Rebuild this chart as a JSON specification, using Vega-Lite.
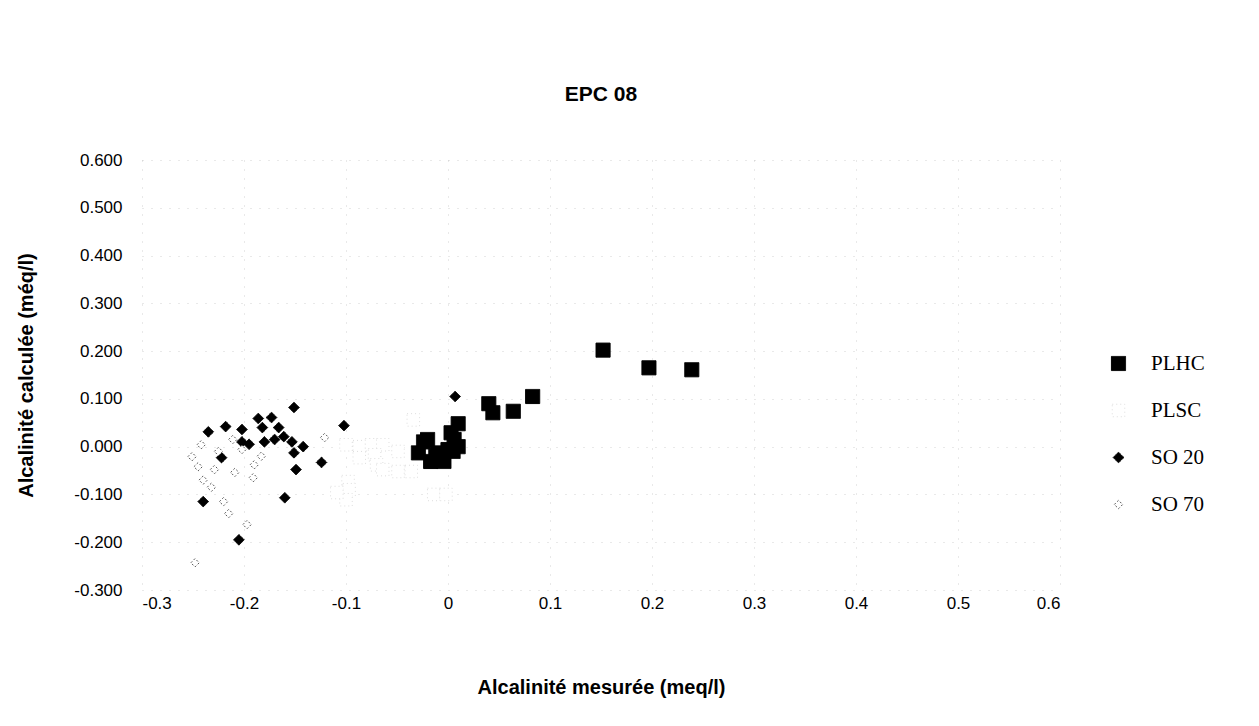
{
  "$schema": "https://vega.github.io/schema/vega-lite/v6.json",
  "width": 918,
  "height": 430,
  "autosize": {"type": "none"},
  "padding": {"left": 142, "top": 160, "right": 199, "bottom": 136},
  "background": "white",
  "title": {"text": "EPC 08", "font": "Liberation Sans", "fontSize": 21, "fontWeight": "bold", "color": "black", "offset": 46, "anchor": "middle"},
  "data": {"values": [
    {"series": "PLHC", "x": 0.152, "y": 0.202},
    {"series": "PLHC", "x": 0.197, "y": 0.165},
    {"series": "PLHC", "x": 0.239, "y": 0.161},
    {"series": "PLHC", "x": 0.083, "y": 0.105},
    {"series": "PLHC", "x": 0.040, "y": 0.090},
    {"series": "PLHC", "x": 0.044, "y": 0.071},
    {"series": "PLHC", "x": 0.064, "y": 0.074},
    {"series": "PLHC", "x": 0.010, "y": 0.048},
    {"series": "PLHC", "x": -0.024, "y": 0.010},
    {"series": "PLHC", "x": -0.020, "y": 0.015},
    {"series": "PLHC", "x": -0.010, "y": -0.013},
    {"series": "PLHC", "x": 0.000, "y": -0.006},
    {"series": "PLHC", "x": 0.006, "y": 0.015},
    {"series": "PLHC", "x": 0.010, "y": 0.000},
    {"series": "PLHC", "x": -0.029, "y": -0.013},
    {"series": "PLHC", "x": -0.017, "y": -0.031},
    {"series": "PLHC", "x": -0.004, "y": -0.031},
    {"series": "PLHC", "x": 0.003, "y": 0.029},
    {"series": "PLHC", "x": -0.012, "y": -0.020},
    {"series": "PLHC", "x": 0.005, "y": -0.010},
    {"series": "PLSC", "x": -0.100, "y": 0.004},
    {"series": "PLSC", "x": -0.087, "y": 0.000},
    {"series": "PLSC", "x": -0.075, "y": 0.004},
    {"series": "PLSC", "x": -0.064, "y": 0.004},
    {"series": "PLSC", "x": -0.072, "y": -0.017},
    {"series": "PLSC", "x": -0.087, "y": -0.023},
    {"series": "PLSC", "x": -0.070, "y": -0.038},
    {"series": "PLSC", "x": -0.064, "y": -0.048},
    {"series": "PLSC", "x": -0.049, "y": -0.052},
    {"series": "PLSC", "x": -0.036, "y": -0.052},
    {"series": "PLSC", "x": -0.049, "y": -0.010},
    {"series": "PLSC", "x": -0.098, "y": -0.073},
    {"series": "PLSC", "x": -0.097, "y": -0.090},
    {"series": "PLSC", "x": -0.100, "y": -0.111},
    {"series": "PLSC", "x": -0.109, "y": -0.096},
    {"series": "PLSC", "x": -0.014, "y": -0.100},
    {"series": "PLSC", "x": -0.002, "y": -0.100},
    {"series": "PLSC", "x": -0.034, "y": 0.056},
    {"series": "SO 20", "x": -0.151, "y": 0.082},
    {"series": "SO 20", "x": -0.186, "y": 0.059},
    {"series": "SO 20", "x": -0.173, "y": 0.061},
    {"series": "SO 20", "x": -0.166, "y": 0.040},
    {"series": "SO 20", "x": -0.102, "y": 0.044},
    {"series": "SO 20", "x": -0.235, "y": 0.031},
    {"series": "SO 20", "x": -0.218, "y": 0.042},
    {"series": "SO 20", "x": -0.202, "y": 0.036},
    {"series": "SO 20", "x": -0.182, "y": 0.040},
    {"series": "SO 20", "x": -0.161, "y": 0.021},
    {"series": "SO 20", "x": -0.153, "y": 0.010},
    {"series": "SO 20", "x": -0.142, "y": 0.000},
    {"series": "SO 20", "x": -0.180, "y": 0.010},
    {"series": "SO 20", "x": -0.151, "y": -0.013},
    {"series": "SO 20", "x": -0.222, "y": -0.023},
    {"series": "SO 20", "x": -0.124, "y": -0.033},
    {"series": "SO 20", "x": -0.149, "y": -0.048},
    {"series": "SO 20", "x": -0.160, "y": -0.107},
    {"series": "SO 20", "x": -0.240, "y": -0.115},
    {"series": "SO 20", "x": -0.205, "y": -0.195},
    {"series": "SO 20", "x": -0.202, "y": 0.010},
    {"series": "SO 20", "x": 0.007, "y": 0.105},
    {"series": "SO 20", "x": -0.170, "y": 0.015},
    {"series": "SO 20", "x": -0.195, "y": 0.005},
    {"series": "SO 70", "x": -0.248, "y": -0.243},
    {"series": "SO 70", "x": -0.121, "y": 0.019},
    {"series": "SO 70", "x": -0.209, "y": -0.054},
    {"series": "SO 70", "x": -0.191, "y": -0.065},
    {"series": "SO 70", "x": -0.220, "y": -0.115},
    {"series": "SO 70", "x": -0.197, "y": -0.163},
    {"series": "SO 70", "x": -0.211, "y": 0.015},
    {"series": "SO 70", "x": -0.242, "y": 0.004},
    {"series": "SO 70", "x": -0.251, "y": -0.021},
    {"series": "SO 70", "x": -0.229, "y": -0.048},
    {"series": "SO 70", "x": -0.245, "y": -0.042},
    {"series": "SO 70", "x": -0.190, "y": -0.038},
    {"series": "SO 70", "x": -0.202, "y": -0.006},
    {"series": "SO 70", "x": -0.232, "y": -0.085},
    {"series": "SO 70", "x": -0.215, "y": -0.140},
    {"series": "SO 70", "x": -0.183, "y": -0.020},
    {"series": "SO 70", "x": -0.225, "y": -0.010},
    {"series": "SO 70", "x": -0.240, "y": -0.070}
  ]},
  "mark": {"type": "point", "filled": true, "opacity": 1, "strokeWidth": 1},
  "encoding": {
    "x": {
      "field": "x", "type": "quantitative",
      "scale": {"domain": [-0.3, 0.6], "nice": false, "zero": false},
      "axis": {
        "title": "Alcalinité mesurée (meq/l)",
        "values": [-0.3, -0.2, -0.1, 0, 0.1, 0.2, 0.3, 0.4, 0.5, 0.6],
        "labelExpr": "'' + datum.value",
        "labelPadding": 5, "titlePadding": 66
      }
    },
    "y": {
      "field": "y", "type": "quantitative",
      "scale": {"domain": [-0.3, 0.6], "nice": false, "zero": false},
      "axis": {
        "title": "Alcalinité calculée (méq/l)",
        "values": [-0.3, -0.2, -0.1, 0, 0.1, 0.2, 0.3, 0.4, 0.5, 0.6],
        "labelExpr": "replace(format(datum.value, '.3f'), '−', '-')",
        "labelPadding": 20, "titlePadding": 37
      }
    },
    "shape": {
      "field": "series", "type": "nominal",
      "scale": {"domain": ["PLHC", "PLSC", "SO 20", "SO 70"], "range": ["square", "square", "diamond", "diamond"]},
      "legend": {"title": null, "orient": "none", "legendX": 966, "legendY": 193}
    },
    "fill": {
      "field": "series", "type": "nominal",
      "scale": {"domain": ["PLHC", "PLSC", "SO 20", "SO 70"], "range": ["black", "white", "black", "white"]},
      "legend": {"title": null, "orient": "none", "legendX": 966, "legendY": 193}
    },
    "stroke": {
      "field": "series", "type": "nominal",
      "scale": {"domain": ["PLHC", "PLSC", "SO 20", "SO 70"], "range": ["black", "#dddddd", "black", "#555555"]},
      "legend": {"title": null, "orient": "none", "legendX": 966, "legendY": 193}
    },
    "strokeDash": {
      "field": "series", "type": "nominal",
      "scale": {"domain": ["PLHC", "PLSC", "SO 20", "SO 70"], "range": [[1, 0], [1, 3], [1, 0], [2, 2]]},
      "legend": {"title": null, "orient": "none", "legendX": 966, "legendY": 193}
    },
    "size": {
      "field": "series", "type": "nominal",
      "scale": {"domain": ["PLHC", "PLSC", "SO 20", "SO 70"], "range": [200, 70, 170, 120]},
      "legend": {"title": null, "orient": "none", "legendX": 966, "legendY": 193}
    }
  },
  "config": {
    "view": {"stroke": null},
    "axis": {
      "domain": false, "ticks": false, "grid": true,
      "gridColor": "#aaaaaa", "gridDash": [1, 8], "gridOpacity": 0.5,
      "labelFont": "Liberation Sans", "labelFontSize": 17, "labelColor": "black",
      "titleFont": "Liberation Sans", "titleFontSize": 20, "titleFontWeight": "bold", "titleColor": "black"
    },
    "legend": {
      "labelFont": "Liberation Serif", "labelFontSize": 21, "labelColor": "black",
      "labelOffset": 22, "rowPadding": 25, "symbolStrokeWidth": 1
    }
  }
}
